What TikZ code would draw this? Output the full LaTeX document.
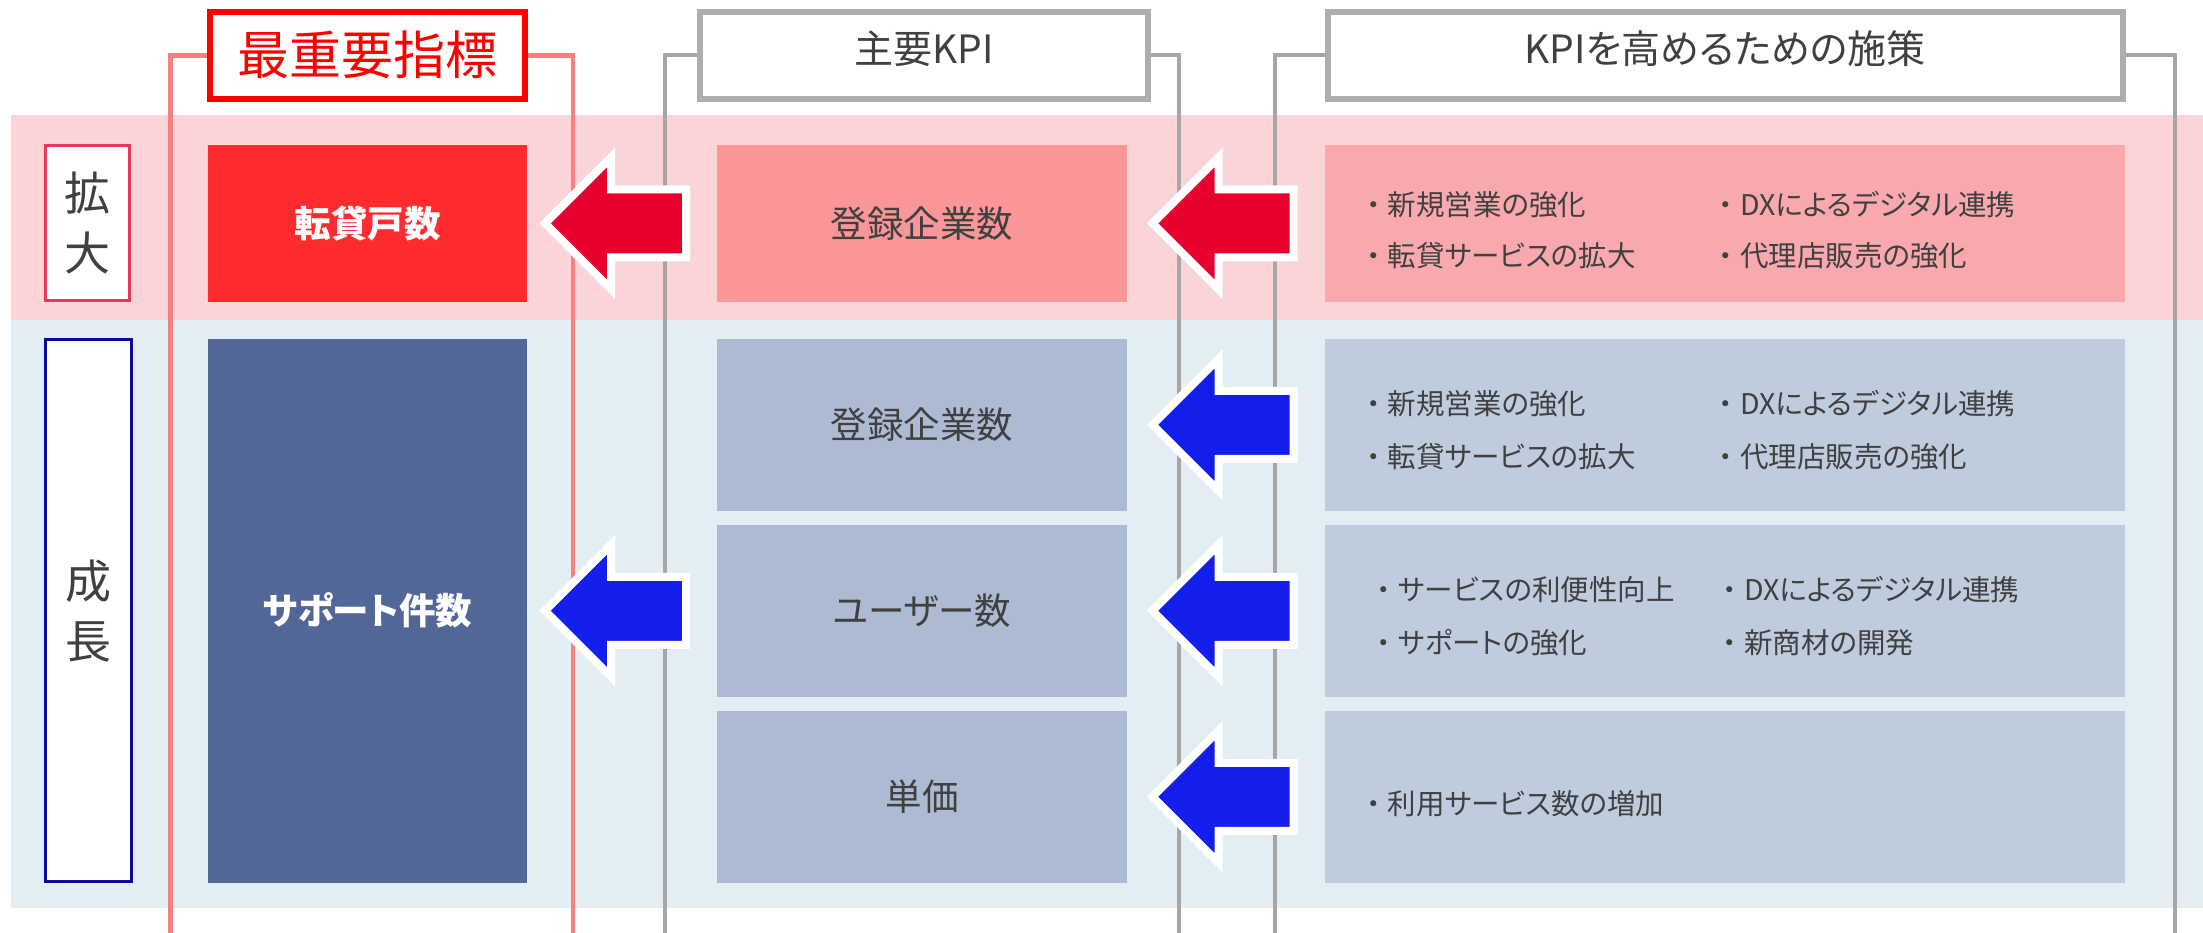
\documentclass[tikz,border=0pt]{standalone}
\usepackage{fontspec}
\setmainfont{Noto Sans CJK JP}[RawFeature=+palt]
\usetikzlibrary{calc}
\definecolor{bandR}{HTML}{FBD4D8}
\definecolor{bandB}{HTML}{E2EDF4}
\definecolor{hiR}{HTML}{FF2B2E}
\definecolor{hiB}{HTML}{526698}
\definecolor{kR}{HTML}{FA9598}
\definecolor{kB}{HTML}{ADBBD2}
\definecolor{sR}{HTML}{F9A9AE}
\definecolor{sB}{HTML}{BFCCDE}
\definecolor{arR}{HTML}{E8002F}
\definecolor{arB}{HTML}{141EEB}
\definecolor{brR}{HTML}{F58080}
\definecolor{brG}{HTML}{A6A6A6}
\definecolor{hdG}{HTML}{ADADAD}
\definecolor{txt}{HTML}{404040}
\definecolor{lblR}{HTML}{E8385F}
\definecolor{lblB}{HTML}{0A0AA0}
\newcommand\bul{\makebox[1em]{・}}
\newcommand\blockarrow[3]{%
  \path[draw=white, line width=8pt, line join=miter, fill=#3]
    let \p2=(#1.west) in
    ({\x2-172pt},\y2) -- ({\x2-106pt},{\y2+66pt}) -- ({\x2-106pt},{\y2+34pt})
    -- ({\x2-31pt},{\y2+34pt}) -- ({\x2-31pt},{\y2-34pt}) -- ({\x2-106pt},{\y2-34pt})
    -- ({\x2-106pt},{\y2-66pt}) -- cycle;}
\begin{document}
\begin{tikzpicture}[x=1pt,y=-1pt,
  box/.style={rectangle, inner sep=0pt, outer sep=0pt, draw=none, align=center, text=txt},
  band/.style={rectangle, inner sep=0pt, outer sep=0pt, draw=none, minimum width=2192pt},
  fbig/.style={font=\fontsize{36.5}{44}\selectfont},
  fbold/.style={font=\fontsize{36.5}{44}\selectfont\bfseries, text=white},
  item/.style={anchor=west, inner sep=0pt, text=txt, font=\fontsize{28.5}{34}\selectfont},
  lineR/.style={draw=brR, line width=4.5pt},
  lineG/.style={draw=brG, line width=4pt},
  hdr/.style={rectangle, fill=white, line width=6pt, inner sep=0pt, outer sep=0pt, minimum height=86.4pt},
  side/.style={rectangle, fill=white, line width=3pt, inner sep=0pt, outer sep=0pt, text=txt, align=center, font=\fontsize{46}{60}\selectfont}
]
\useasboundingbox (0,0) rectangle (2203,933);
% bands
\node[band, fill=bandR, minimum height=205pt] (bandr) at (1107,217.5) {};
\node[band, fill=bandB, minimum height=588pt] (bandb) at (1107,614) {};
% header boxes (placed first for bracket anchors)
\path (367.25,55.5) coordinate (h1c) (924,55.5) coordinate (h2c) (1725,55.5) coordinate (h3c);
\coordinate (r1a) at (170.5,933);
\coordinate (r1b) at (573,933);
\coordinate (g1a) at (665,933);
\coordinate (g1b) at (1179,933);
\coordinate (g2a) at (1275,933);
\coordinate (g2b) at (2175,933);
\node[hdr, minimum width=314.5pt] (h1) at (h1c) {};
\node[hdr, minimum width=448pt] (h2) at (h2c) {};
\node[hdr, minimum width=795pt] (h3) at (h3c) {};
% brackets
\draw[lineR] (h1.west) -| (r1a);
\draw[lineR] (h1.east) -| (r1b);
\draw[lineG] (h2.west) -| (g1a);
\draw[lineG] (h2.east) -| (g1b);
\draw[lineG] (h3.west) -| (g2a);
\draw[lineG] (h3.east) -| (g2b);
% header frames redrawn on top
\node[hdr, draw=red, minimum width=314.5pt] (h1f) at (h1c) {};
\node[hdr, draw=hdG, minimum width=448pt] (h2f) at (h2c) {};
\node[hdr, draw=hdG, minimum width=795pt] (h3f) at (h3c) {};
\node[text=red, inner sep=0pt, font=\fontsize{52}{60}\selectfont] (h1t) at (367.25,54.5) {最重要指標};
\node[text=txt, inner sep=0pt, font=\fontsize{39}{46}\selectfont] (h2t) at (924,48.5) {主要KPI};
\node[text=txt, inner sep=0pt, font=\fontsize{39}{46}\selectfont] (h3t) at (1725,48.5) {KPIを高めるための施策};
% side labels
\node[side, draw=lblR, minimum width=84pt, minimum height=155pt] (lab1) at (87,223.3) {拡\\大};
\node[side, draw=lblB, minimum width=86.8pt, minimum height=541.5pt] (lab2) at (88.4,610.7) {成\\長};
% column 1
\node[box, fbold, fill=hiR, minimum width=319pt, minimum height=156.7pt] (t1) at (367.5,223.35) {転貸戸数};
\node[box, fbold, fill=hiB, minimum width=319pt, minimum height=543.5pt] (t2) at (367.5,610.75) {サポート件数};
% column 2
\node[box, fbig, fill=kR, minimum width=410pt, minimum height=156.7pt] (k1) at (922,223.35) {登録企業数};
\node[box, fbig, fill=kB, minimum width=410pt, minimum height=171.5pt] (k2) at (922,424.75) {登録企業数};
\node[box, fbig, fill=kB, minimum width=410pt, minimum height=171.5pt] (k3) at (922,610.75) {ユーザー数};
\node[box, fbig, fill=kB, minimum width=410pt, minimum height=171.5pt] (k4) at (922,796.75) {単価};
% column 3
\node[box, fill=sR, minimum width=800.5pt, minimum height=156.7pt] (s1) at (1724.75,223.35) {};
\node[box, fill=sB, minimum width=800.5pt, minimum height=171.5pt] (s2) at (1724.75,424.75) {};
\node[box, fill=sB, minimum width=800.5pt, minimum height=171.5pt] (s3) at (1724.75,610.75) {};
\node[box, fill=sB, minimum width=800.5pt, minimum height=171.5pt] (s4) at (1724.75,796.75) {};
% arrows
\blockarrow{k1}{t1}{arR}
\blockarrow{s1}{k1}{arR}
\blockarrow{k3}{t2}{arB}
\blockarrow{s2}{k2}{arB}
\blockarrow{s3}{k3}{arB}
\blockarrow{s4}{k4}{arB}
% items
\node[item] (i11) at (1359,204.7) {\bul 新規営業の強化};
\node[item] (i12) at (1359,255.8) {\bul 転貸サービスの拡大};
\node[item] (i13) at (1711.5,204.7) {\bul DXによるデジタル連携};
\node[item] (i14) at (1711.5,255.8) {\bul 代理店販売の強化};
\node[item] (i21) at (1359,404) {\bul 新規営業の強化};
\node[item] (i22) at (1359,456.4) {\bul 転貸サービスの拡大};
\node[item] (i23) at (1711.5,404) {\bul DXによるデジタル連携};
\node[item] (i24) at (1711.5,456.4) {\bul 代理店販売の強化};
\node[item] (i31) at (1369.5,590) {\bul サービスの利便性向上};
\node[item] (i32) at (1369.5,643) {\bul サポートの強化};
\node[item] (i33) at (1715.5,590) {\bul DXによるデジタル連携};
\node[item] (i34) at (1715.5,643) {\bul 新商材の開発};
\node[item] (i41) at (1359,803.4) {\bul 利用サービス数の増加};
\end{tikzpicture}
\end{document}
